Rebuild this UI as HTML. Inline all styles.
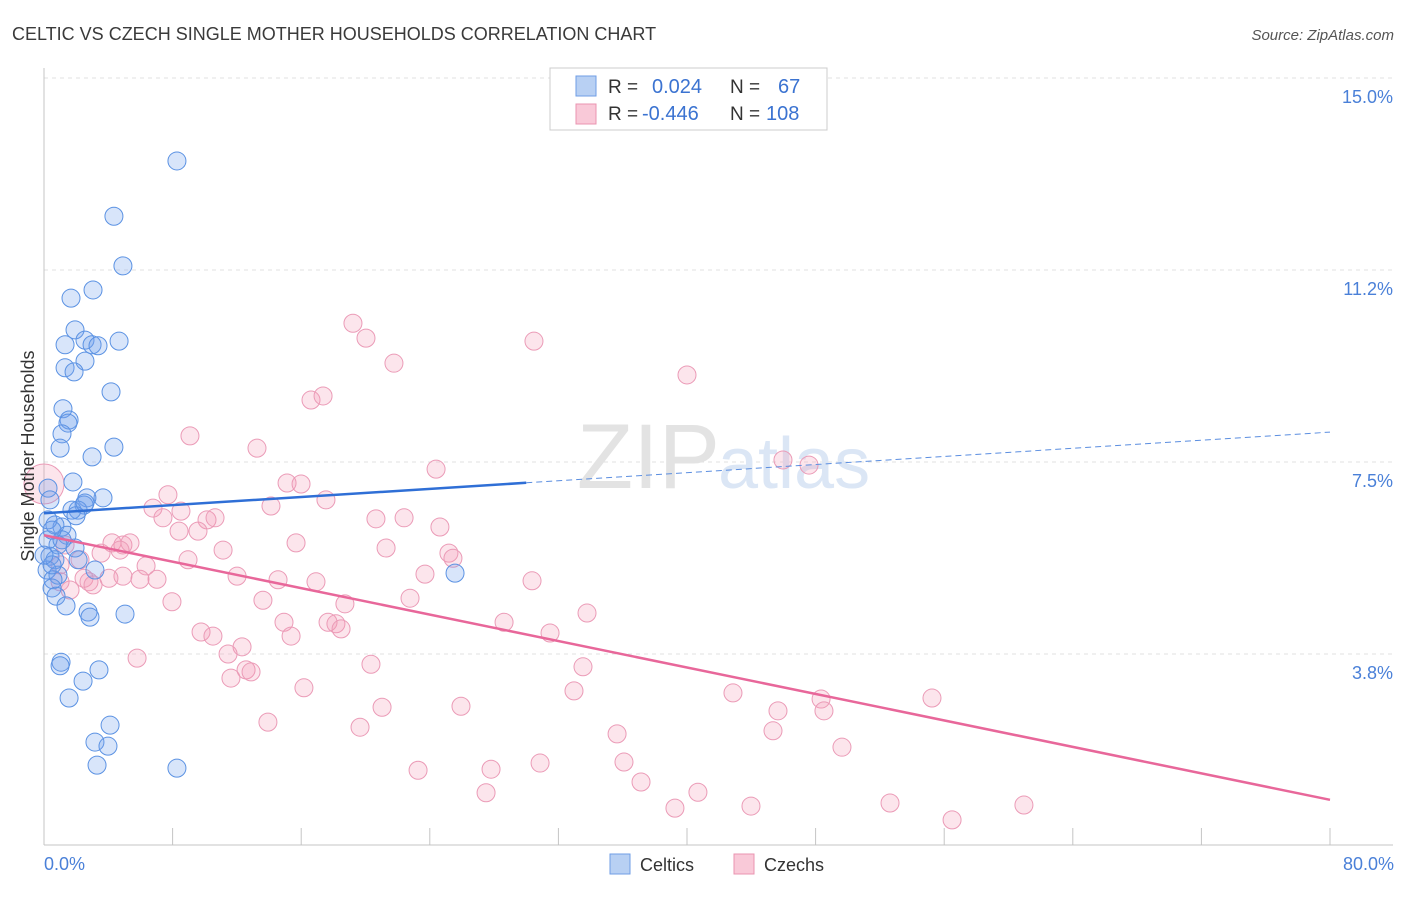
<!DOCTYPE html>
<html><head><meta charset="utf-8"><style>
body{margin:0;background:#fff;font-family:"Liberation Sans",sans-serif;}
svg text{font-family:"Liberation Sans",sans-serif;}
</style></head><body>
<svg id="chart" width="1406" height="892" xmlns="http://www.w3.org/2000/svg">
<text x="12" y="40" font-size="18" fill="#3a3a3a">CELTIC VS CZECH SINGLE MOTHER HOUSEHOLDS CORRELATION CHART</text>
<text x="1394" y="40" font-size="15" fill="#555" font-style="italic" text-anchor="end">Source: ZipAtlas.com</text>
<g id="grid"></g>
<text x="720" y="488" font-size="92" fill="#e3e3e3" text-anchor="end" font-family="Liberation Serif">ZIP</text>
<text x="718" y="488" font-size="72" fill="#dbe6f5">atlas</text>
<g id="pts"></g>
<g id="lines"></g>
<text x="34" y="456" font-size="18" fill="#333" text-anchor="middle" transform="rotate(-90 34 456)">Single Mother Households</text>
<text x="44" y="870" font-size="18" fill="#4a80d8">0.0%</text>
<text x="1394" y="870" font-size="18" fill="#4a80d8" text-anchor="end">80.0%</text>
<g>
<rect x="550" y="68" width="277" height="62" fill="#fff" stroke="#ccc"/>
<rect x="576" y="76" width="20" height="20" fill="#b8d0f3" stroke="#6f9ee6"/>
<rect x="576" y="104" width="20" height="20" fill="#f9c9d8" stroke="#ea94b0"/>
<text x="608" y="93" font-size="19" fill="#333">R = </text><text x="652" y="93" font-size="20" fill="#3b73d1">0.024</text>
<text x="730" y="93" font-size="19" fill="#333">N = </text><text x="778" y="93" font-size="20" fill="#3b73d1">67</text>
<text x="608" y="120" font-size="19" fill="#333">R = </text><text x="642" y="120" font-size="20" fill="#3b73d1">-0.446</text>
<text x="730" y="120" font-size="19" fill="#333">N = </text><text x="766" y="120" font-size="20" fill="#3b73d1">108</text>
</g>
<g>
<rect x="610" y="854" width="20" height="20" fill="#b8d0f3" stroke="#6f9ee6"/>
<text x="640" y="871" font-size="18" fill="#333">Celtics</text>
<rect x="734" y="854" width="20" height="20" fill="#f9c9d8" stroke="#ea94b0"/>
<text x="764" y="871" font-size="18" fill="#333">Czechs</text>
</g>
</svg>
<script>
const yTicks=[15,11.25,7.5,3.75];
const yTickLabels=["15.0%","11.2%","7.5%","3.8%"];
const xTicks=[0,8,16,24,32,40,48,56,64,72,80];
const celticX=[8.27,4.35,4.91,3.05,1.68,1.93,1.31,2.55,2.99,3.36,4.67,2.55,1.31,1.87,4.17,1.18,1.56,1.49,1.12,1.00,4.35,2.99,1.80,0.25,3.67,2.67,2.49,2.12,1.74,1.99,0.37,1.12,0.68,1.43,0.87,0.25,1.93,0.37,2.12,0.68,0.19,0.87,3.17,0.56,0.50,0.75,1.37,2.74,2.86,5.04,1.06,1.00,3.42,2.43,1.56,4.11,3.17,3.98,3.30,8.27,25.57,0.25,0.50,1.12,0,0.50,2.55];
const celticY=[13.38,12.30,11.33,10.86,10.70,10.08,9.79,9.88,9.79,9.77,9.86,9.47,9.34,9.26,8.87,8.54,8.32,8.26,8.05,7.77,7.79,7.60,7.11,6.99,6.80,6.80,6.66,6.56,6.56,6.45,6.76,6.23,6.27,6.07,5.88,5.98,5.82,5.66,5.59,5.59,5.39,5.29,5.39,5.20,5.04,4.88,4.69,4.57,4.47,4.53,3.59,3.52,3.44,3.22,2.89,2.36,2.03,1.95,1.58,1.52,5.33,6.37,5.49,5.98,5.68,6.17,6.70];
const czechX=[19.22,20.03,30.48,21.77,40.00,16.61,17.36,9.08,13.25,24.39,45.97,47.59,15.12,15.99,7.71,17.54,14.12,6.78,8.52,7.40,10.14,10.64,20.65,22.40,24.63,8.40,9.58,15.68,11.14,21.28,4.23,4.91,5.35,4.73,3.55,25.19,25.44,8.96,6.35,4.91,12.01,4.04,5.97,7.03,14.56,16.92,30.36,23.70,2.49,2.80,3.05,1.00,1.62,13.62,22.77,18.72,7.96,33.78,28.62,17.67,18.16,18.48,14.93,31.48,9.77,10.51,15.37,12.32,5.79,11.45,20.34,33.53,12.57,12.88,11.63,16.17,32.97,42.86,55.24,48.34,21.03,25.94,45.66,48.52,13.93,19.66,35.65,45.35,49.64,30.86,36.08,23.27,27.81,37.14,27.50,40.68,39.25,43.98,52.63,60.96,56.49,1.31,2.24,1.00];
const czechY=[10.21,9.92,9.86,9.43,9.20,8.71,8.79,8.01,7.77,7.36,7.54,7.44,7.09,7.07,6.86,6.76,6.64,6.60,6.54,6.41,6.37,6.41,6.39,6.41,6.23,6.15,6.15,5.92,5.78,5.82,5.92,5.88,5.92,5.78,5.72,5.72,5.62,5.59,5.47,5.27,5.27,5.23,5.21,5.21,5.20,5.16,5.18,5.31,5.23,5.16,5.10,5.16,5.00,4.80,4.84,4.73,4.77,4.55,4.37,4.37,4.34,4.24,4.37,4.16,4.18,4.10,4.10,3.89,3.67,3.75,3.55,3.50,3.44,3.40,3.28,3.09,3.03,2.99,2.89,2.87,2.71,2.73,2.64,2.64,2.42,2.32,2.19,2.25,1.93,1.62,1.64,1.48,1.50,1.25,1.04,1.05,0.74,0.78,0.84,0.80,0.51,5.88,5.59,5.49];
const czechBigX=[0];
const czechBigY=[7.07];
const celticTrend=[6.50,0.0198];
const czechTrend=[6.07,-0.0646];
const NS="http://www.w3.org/2000/svg";
const X=v=>44+v/80*1286;
const Y=v=>78+(15-v)*51.2;
function mk(t,a,p){const e=document.createElementNS(NS,t);for(const k in a)e.setAttribute(k,a[k]);p.appendChild(e);return e;}
const grid=document.getElementById('grid');
yTicks.forEach((v,i)=>{
 const l=mk('line',{x1:44,x2:1393,y1:Y(v),y2:Y(v),stroke:'#e2e2e2','stroke-dasharray':'4,4'},grid);
 
 
 const t=mk('text',{x:1393,y:Y(v)+25,'font-size':18,fill:'#4a80d8','text-anchor':'end'},grid);
 t.textContent=yTickLabels[i];
 
 
});
const ax=mk('line',{x1:44,x2:1393,y1:845,y2:845,stroke:'#c4c4c4'},grid);


const ay=mk('line',{x1:44,x2:44,y1:68,y2:845,stroke:'#c4c4c4'},grid);


xTicks.forEach(v=>{
 const t=mk('line',{x1:X(v),x2:X(v),y1:828,y2:845,stroke:'#c4c4c4'},grid);
 
 
});
const pts=document.getElementById('pts');
czechX.forEach((v,i)=>{
 const c=mk('circle',{cx:X(v),cy:Y(czechY[i]),r:9,fill:'rgba(242,150,180,0.25)',stroke:'#eb9bb7','stroke-width':1},pts);
 
 
});
czechBigX.forEach((v,i)=>{
 const c=mk('circle',{cx:X(v),cy:Y(czechBigY[i]),r:20,fill:'rgba(242,150,180,0.25)',stroke:'#eb9bb7','stroke-width':1},pts);
 
 
});
celticX.forEach((v,i)=>{
 const c=mk('circle',{cx:X(v),cy:Y(celticY[i]),r:9,fill:'rgba(110,160,235,0.27)',stroke:'#5b92e3','stroke-width':1},pts);
 
 
});
const lines=document.getElementById('lines');
const b=x=>celticTrend[0]+celticTrend[1]*x;
const p=x=>czechTrend[0]+czechTrend[1]*x;
const l1=mk('line',{x1:X(0),y1:Y(b(0)),x2:X(30),y2:Y(b(30)),stroke:'#2f6fd6','stroke-width':2.5},lines);


const l2=mk('line',{x1:X(30),y1:Y(b(30)),x2:X(80),y2:Y(b(80)),stroke:'#5b8ee0','stroke-width':1,'stroke-dasharray':'6,4'},lines);


const l3=mk('line',{x1:X(0),y1:Y(p(0)),x2:X(80),y2:Y(p(80)),stroke:'#e8679a','stroke-width':2.5},lines);


</script>
</body></html>
